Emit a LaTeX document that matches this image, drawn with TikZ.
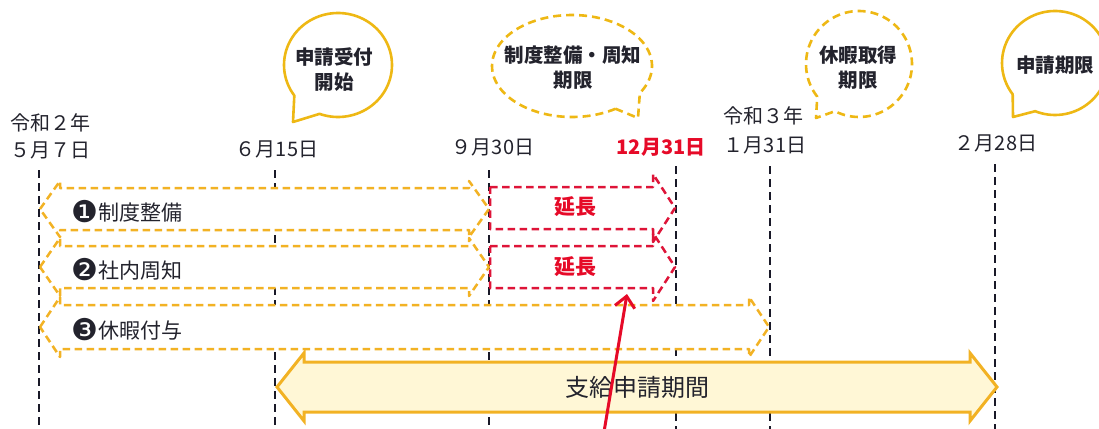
\documentclass[tikz,border=0pt]{standalone}
\usepackage{fontspec}
\setmainfont{Noto Sans CJK JP}
\newfontfamily\dvfont{DejaVu Sans}
\usetikzlibrary{arrows.meta}
\definecolor{ylw}{RGB}{242,178,36}
\definecolor{bub}{RGB}{238,184,20}
\definecolor{redd}{RGB}{222,20,56}
\definecolor{redt}{RGB}{230,10,40}
\definecolor{navy}{RGB}{25,25,40}
\definecolor{txt}{RGB}{35,35,45}
\definecolor{bigfill}{RGB}{255,247,214}
% style, x1, x2, yc, h, H, L
\newcommand{\DArrow}[7]{\path[#1] (#2,#4) -- ({#2+#7},{#4-#6}) -- ({#2+#7},{#4-#5}) -- ({#3-#7},{#4-#5}) -- ({#3-#7},{#4-#6}) -- (#3,#4) -- ({#3-#7},{#4+#6}) -- ({#3-#7},{#4+#5}) -- ({#2+#7},{#4+#5}) -- ({#2+#7},{#4+#6}) -- cycle;}
\newcommand{\RArrow}[7]{\path[#1] (#2,{#4-#5}) -- ({#3-#7},{#4-#5}) -- ({#3-#7},{#4-#6}) -- (#3,#4) -- ({#3-#7},{#4+#6}) -- ({#3-#7},{#4+#5}) -- (#2,{#4+#5}) -- cycle;}
\newcommand{\Circnum}[1]{\raisebox{-2.5pt}{\dvfont\fontsize{30}{30}\selectfont #1}}
\begin{document}
\begin{tikzpicture}[x=1pt,y=-1pt,
  ydash/.style={draw=ylw, line width=2.5pt, dash pattern=on 7.5pt off 4.5pt, line join=round},
  rdash/.style={draw=redd, line width=2.5pt, dash pattern=on 7.5pt off 4.5pt, line join=round},
  vline/.style={draw=navy, line width=2.4pt, dash pattern=on 8pt off 5pt},
  bubsolid/.style={draw=bub, line width=2.6pt, line join=round},
  bubdash/.style={draw=bub, line width=2.6pt, dash pattern=on 8pt off 5pt, line join=round},
  datelbl/.style={font=\fontsize{20}{22}\selectfont, text=txt, inner sep=0pt},
  bubtxt/.style={font=\fontsize{19.5}{25}\selectfont\bfseries, text=txt, align=center, inner sep=0pt},
  armtxt/.style={font=\fontsize{21}{24}\selectfont, text=txt, inner sep=0pt, anchor=west},
  exttxt/.style={font=\fontsize{21}{24}\selectfont\bfseries, text=redt, inner sep=0pt},
  bigarrow/.style={draw=ylw, line width=3pt, fill=bigfill, line join=miter},
  pointer/.style={draw=redt, line width=3pt, -{Straight Barb[length=11pt,width=20pt,line width=3pt]}}
]
\useasboundingbox (0,0) rectangle (1099,428);
\clip (0,0) rectangle (1099,428);

% date labels
\node[datelbl, anchor=west] (y2) at (10,123) {令和２年};
\node[datelbl, anchor=west] (d1) at (10,150) {５月７日};
\node[datelbl] (d2) at (277,149) {６月15日};
\node[datelbl] (d3) at (493,147) {９月30日};
\node[datelbl, text=redt, font=\fontsize{20}{22}\selectfont\bfseries] (d4) at (661,147) {12月31日};
\node[datelbl] (y3) at (763,116) {令和３年};
\node[datelbl] (d5) at (765,145) {１月31日};
\node[datelbl] (d6) at (996,143) {２月28日};

% vertical dashed lines
\coordinate (v1t) at (39,170); \coordinate (v1b) at (39,430);
\coordinate (v2t) at (275,170); \coordinate (v2b) at (275,430);
\coordinate (v3t) at (489,170); \coordinate (v3b) at (489,430);
\coordinate (v4t) at (676,166); \coordinate (v4b) at (676,430);
\coordinate (v5t) at (770,166); \coordinate (v5b) at (770,430);
\coordinate (v6t) at (995,164); \coordinate (v6b) at (995,430);
\foreach \i in {1,...,6} {\draw[vline] (v\i t) -- (v\i b);}

% speech bubbles
\draw[bubsolid, fill=white] plot[domain=-216:110, samples=90] ({338+54*cos(\x)},{65+52*sin(\x)}) -- (293,122) -- cycle;
\node[bubtxt] (b1) at (334,70) {申請受付\\開始};
\draw[bubdash, fill=white] plot[domain=57:392, samples=110] ({572+80*cos(\x)},{66+51*sin(\x)}) -- (638,118) -- cycle;
\node[bubtxt] (b2) at (573,68) {制度整備・周知\\期限};
\draw[bubdash, fill=white] plot[domain=-218:117, samples=90] ({859+53*cos(\x)},{64+53*sin(\x)}) -- (816,118) -- cycle;
\node[bubtxt] (b3) at (858,68) {休暇取得\\期限};
\draw[bubsolid, fill=white] plot[domain=-217:112, samples=90] ({1055+53*cos(\x)},{63+52*sin(\x)}) -- (1013,117) -- cycle;
\node[bubtxt] (b4) at (1055,65) {申請期限};

% yellow dashed arrows: fills then outlines
\DArrow{fill=white}{40}{489}{209}{21}{28}{20}
\DArrow{fill=white}{40}{489}{267}{21}{29}{20}
\DArrow{fill=white}{40}{769}{327}{22}{30}{20}
\DArrow{ydash}{40}{489}{209}{21}{28}{20}
\DArrow{ydash}{40}{489}{267}{21}{29}{20}
\DArrow{ydash}{40}{769}{327}{22}{30}{20}

% red extension arrows
\RArrow{rdash}{490}{675}{208}{21}{34}{22}
\RArrow{rdash}{490}{675}{267}{21}{34}{22}
\node[exttxt] (e1) at (575,207) {延長};
\node[exttxt] (e2) at (575,267) {延長};

% arrow labels
\node[armtxt] (a1) at (71,212) {\Circnum{❶}制度整備};
\node[armtxt] (a2) at (71,270) {\Circnum{❷}社内周知};
\node[armtxt] (a3) at (71,330) {\Circnum{❸}休暇付与};

% big arrow
\DArrow{bigarrow}{277}{997}{387}{25}{34}{27}
\node[font=\fontsize{24}{28}\selectfont, text=txt, inner sep=0pt] (big) at (637,387) {支給申請期間};

% red pointer
\coordinate (pb) at (604,432);
\coordinate (pt) at (627,294);
\draw[pointer] (pb) -- (pt);
\end{tikzpicture}
\end{document}
